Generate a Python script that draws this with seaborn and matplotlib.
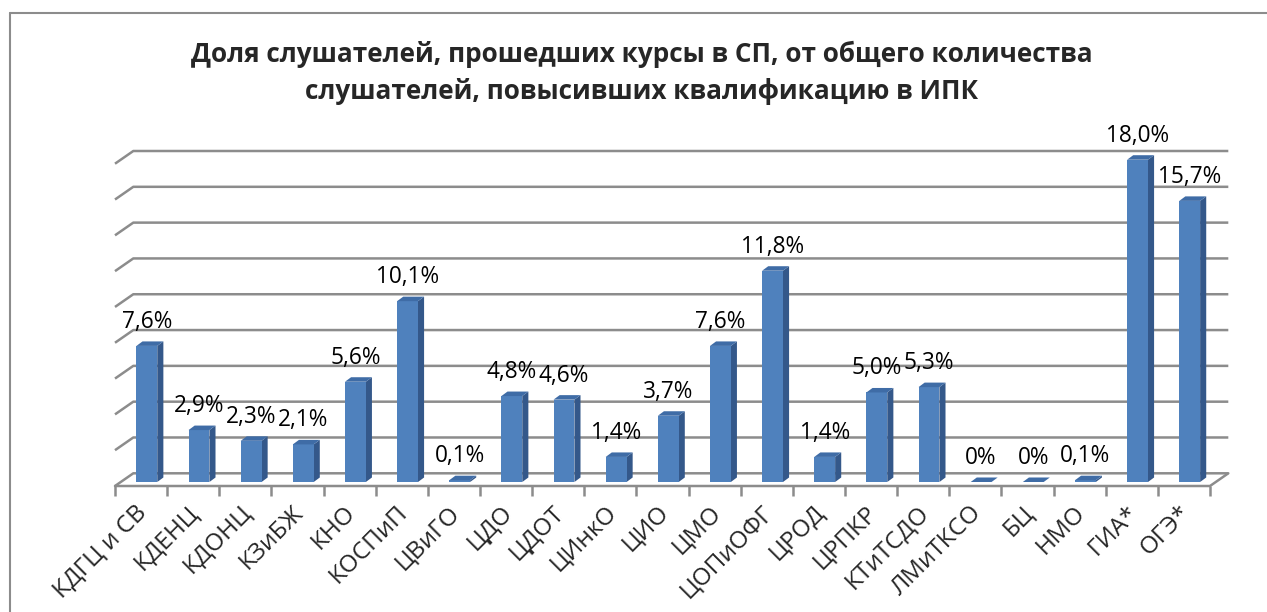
import numpy as np
import pandas as pd
import matplotlib
matplotlib.use("Agg")
import matplotlib.pyplot as plt
import seaborn as sns
from matplotlib.patches import Polygon
from matplotlib.lines import Line2D
from matplotlib.transforms import ScaledTranslation

# ---------------- data ----------------
categories = ["КДГЦ и СВ", "КДЕНЦ", "КДОНЦ", "КЗиБЖ", "КНО", "КОСПиП", "ЦВиГО",
              "ЦДО", "ЦДОТ", "ЦИнкО", "ЦИО", "ЦМО", "ЦОПиОФГ", "ЦРОД", "ЦРПКР",
              "КТиТСДО", "ЛМиТКСО", "БЦ", "НМО", "ГИА*", "ОГЭ*"]
values = [7.6, 2.9, 2.3, 2.1, 5.6, 10.1, 0.1, 4.8, 4.6, 1.4, 3.7, 7.6, 11.8,
          1.4, 5.0, 5.3, 0.0, 0.0, 0.1, 18.0, 15.7]
grid_values = [0, 2, 4, 6, 8, 10, 12, 14, 16, 18]
title = ("Доля слушателей, прошедших курсы в СП, от общего количества\n"
         "слушателей, повысивших квалификацию в ИПК")

# ---------------- style ----------------
sns.set_theme(style="white")
plt.rcParams["font.family"] = ["Open Sans", "DejaVu Sans"]

W, H = 1267, 612
fig = plt.figure(figsize=(W / 100, H / 100), dpi=100)

# axes geometry (pixels)
ax_left, ax_right, ax_bottom, ax_top = 115, 1210, 486, 151
ax = fig.add_axes([ax_left / W, (H - ax_bottom) / H,
                   (ax_right - ax_left) / W, (ax_bottom - ax_top) / H])

n = len(categories)
px_per_x = 51.28
px_per_y = 17.9
ddx = 18 / px_per_x          # depth offset of the back wall (x)
ddy = 12.7 / px_per_y        # depth offset of the back wall (y)
y0f = -4 / px_per_y          # floor front edge
front_frac = 0.315           # bars sit this far back into the floor
bar_dx = 6 / px_per_x
bar_dy = 4.5 / px_per_y

ax.set_xlim(-0.5, n - 0.5 + ddx)
ax.set_ylim(y0f, y0f + max(grid_values) + ddy)

front = "#4F81BD"
side = "#34588A"
topc = "#3F6CA6"
gridc = "#8C8C8C"

# back-wall gridlines and floor
for v in grid_values:
    xs = [-0.5, -0.5 + ddx, n - 0.5 + ddx]
    ys = [y0f + v, y0f + v + ddy, y0f + v + ddy]
    ax.plot(xs, ys, color=gridc, lw=1.8, clip_on=False, zorder=1,
            solid_capstyle="butt")
ax.plot([-0.5, n - 0.5, n - 0.5 + ddx], [y0f, y0f, y0f + ddy],
        color=gridc, lw=1.8, clip_on=False, zorder=1)

df = pd.DataFrame({"cat": categories, "val": values})
sns.barplot(data=df, x="cat", y="val", width=0.4, color=front, saturation=1,
            ax=ax, zorder=3, linewidth=0)

shift = front_frac * ddx
for p, v in zip(ax.patches, values):
    p.set_x(p.get_x() + shift)
    p.set_zorder(3)
    x0 = p.get_x()
    x1 = x0 + p.get_width()
    h = p.get_height()
    side_poly = Polygon([(x1, 0), (x1 + bar_dx, bar_dy), (x1 + bar_dx, h + bar_dy), (x1, h)],
                        closed=True, facecolor=side, edgecolor="none", zorder=2.9)
    top_poly = Polygon([(x0, h), (x1, h), (x1 + bar_dx, h + bar_dy), (x0 + bar_dx, h + bar_dy)],
                       closed=True, facecolor=topc, edgecolor="none", zorder=3.1)
    ax.add_patch(side_poly)
    ax.add_patch(top_poly)
    lab = "0%" if v == 0 else f"{v:.1f}%".replace(".", ",")
    ax.annotate(lab, (x0 + p.get_width() / 2, h), xytext=(0, 13),
                textcoords="offset points", ha="center", va="baseline",
                fontsize=16.3, color="black", zorder=5, annotation_clip=False)

# axes cosmetics
for s in ax.spines.values():
    s.set_visible(False)
ax.set_yticks([])
ax.set_xlabel("")
ax.set_ylabel("")
ax.set_xticks(np.arange(-0.5, n, 1.0), minor=True)
ax.tick_params(axis="x", which="minor", length=7, width=1.8, color=gridc,
               direction="out", bottom=True)
ax.tick_params(axis="x", which="major", length=0, pad=10.5, labelsize=17.5)
off = ScaledTranslation(-6 / 100, 0, fig.dpi_scale_trans)
for lab in ax.get_xticklabels():
    lab.set_rotation(45)
    lab.set_ha("right")
    lab.set_va("top")
    lab.set_rotation_mode("anchor")
    lab.set_transform(lab.get_transform() + off)

# title
fig.text(642 / W, 1 - 73 / H, title, ha="center", va="center",
         fontsize=18.8, fontweight="bold", linespacing=1.45)

# chart border (left and top edges visible)
fig.add_artist(Line2D([10 / W, 10 / W], [0, 1 - 13 / H], color=gridc, lw=1.5,
                      transform=fig.transFigure))
fig.add_artist(Line2D([10 / W, 1], [1 - 13 / H, 1 - 13 / H], color=gridc, lw=1.5,
                      transform=fig.transFigure))

fig.savefig("out.png", dpi=100)
